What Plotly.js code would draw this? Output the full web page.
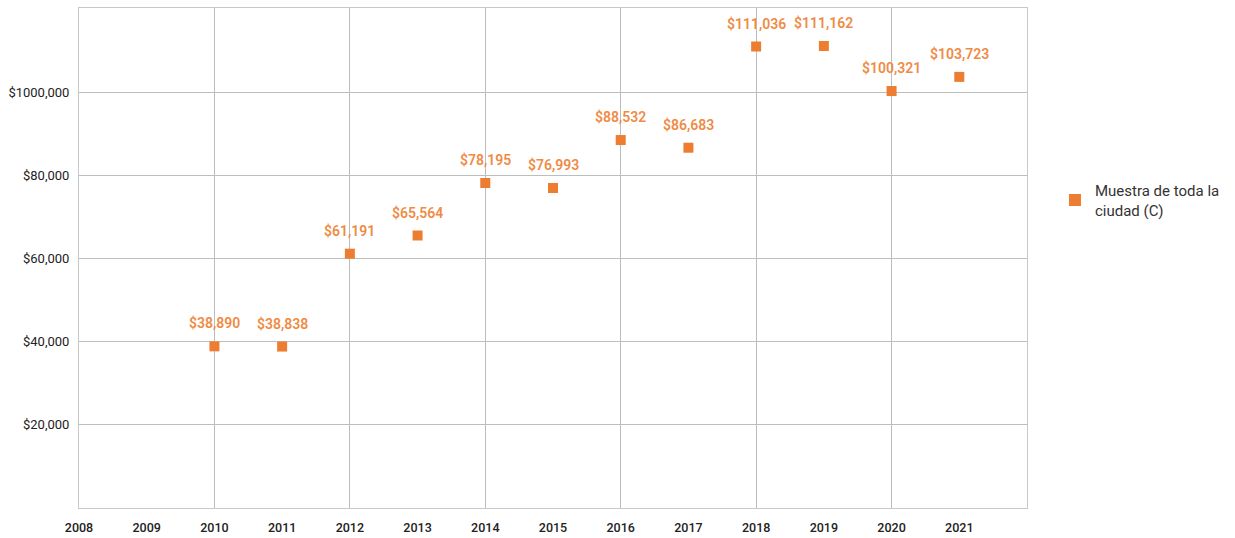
<!DOCTYPE html>
<html>
<head>
<meta charset="utf-8">
<script src="https://cdn.plot.ly/plotly-3.0.1.min.js"></script>
<style>html,body{margin:0;padding:0;background:#fff;}#chart{width:1235px;height:538px;}</style>
</head>
<body>
<div id="chart"></div>
<script>
const years = [2010, 2011, 2012, 2013, 2014, 2015, 2016, 2017, 2018, 2019, 2020, 2021];
const values = [38890, 38838, 61191, 65564, 78195, 76993, 88532, 86683, 111036, 111162, 100321, 103723];
const seriesName = 'Muestra de toda la<br>ciudad (C)';
const xTickYears = [2008, 2009, 2010, 2011, 2012, 2013, 2014, 2015, 2016, 2017, 2018, 2019, 2020, 2021];
const yTickVals = [20000, 40000, 60000, 80000, 100000];
const yTickText = ['$20,000', '$40,000', '$60,000', '$80,000', '$1000,000'];

const orange = '#EC7D31';
const labelOrange = '#EF8B45';
const fmt = v => '$' + v.toLocaleString('en-US');

const trace = {
  x: years, y: values, type: 'scatter', mode: 'markers', name: seriesName,
  marker: {symbol: 'square', size: 10, color: orange},
  hoverinfo: 'none'
};
const gridTrace = {
  x: [2008], y: [0], xaxis: 'x2', type: 'scatter', mode: 'markers',
  marker: {opacity: 0}, showlegend: false, hoverinfo: 'skip'
};

const annotations = years.map((yr, i) => ({
  x: yr, y: values[i], xref: 'x', yref: 'y', text: fmt(values[i]),
  showarrow: false, yshift: 23,
  font: {family: 'Roboto, sans-serif', size: 14, color: labelOrange, weight: 600}
}));

const layout = {
  width: 1235, height: 538,
  margin: {l: 79, r: 208, t: 8, b: 30},
  paper_bgcolor: '#fff', plot_bgcolor: '#fff',
  font: {family: 'Roboto, sans-serif', color: '#333'},
  showlegend: true,
  legend: {x: 1.0295, xanchor: 'left', y: 0.616, yanchor: 'middle', itemsizing: 'constant',
    font: {family: 'Roboto, sans-serif', size: 15, color: '#333'}},
  xaxis: {
    range: [2008, 2022], tickmode: 'array', tickvals: xTickYears, ticktext: xTickYears.map(String),
    showgrid: false, zeroline: false, showline: true, linecolor: '#c8c8c8', mirror: true,
    ticks: '', ticklabelstandoff: 8,
    tickfont: {family: 'Roboto, sans-serif', size: 12.5, color: '#222', weight: 500}
  },
  xaxis2: {
    range: [2008, 2022], overlaying: 'x', anchor: 'y', tick0: 2008, dtick: 2,
    showgrid: true, gridcolor: '#bdbdbd', gridwidth: 1, showticklabels: false,
    zeroline: false, showline: false, ticks: ''
  },
  yaxis: {
    range: [0, 120300], tickmode: 'array', tickvals: yTickVals, ticktext: yTickText,
    showgrid: true, gridcolor: '#bdbdbd', gridwidth: 1, zeroline: false,
    showline: true, linecolor: '#c8c8c8', mirror: true, ticks: '', ticklabelstandoff: 6,
    tickfont: {family: 'Roboto, sans-serif', size: 13, color: '#222'}
  },
  annotations: annotations
};

Plotly.newPlot('chart', [gridTrace, trace], layout, {displayModeBar: false, staticPlot: true});
</script>
</body>
</html>
